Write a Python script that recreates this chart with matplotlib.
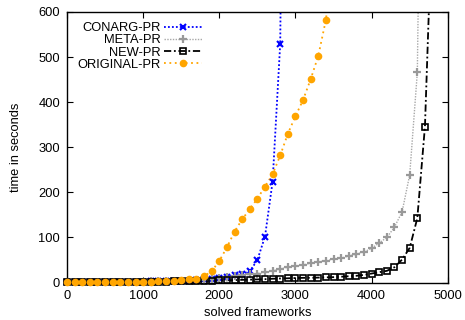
import matplotlib
matplotlib.use("Agg")
import matplotlib.pyplot as plt
from matplotlib.lines import Line2D
import numpy as np

plt.rcParams['font.family'] = ['Liberation Sans', 'DejaVu Sans']
plt.rcParams['font.size'] = 9.3

# x positions of the marked samples (solved frameworks) and times (s)
conarg_x = list(range(0, 2900, 100)) + [2805]
conarg_y = [1, 1, 1, 1, 1.5, 1.5, 1.5, 2, 2, 2, 2, 2.5, 2.5, 3, 3, 3,
            4, 5, 7, 9, 11, 13, 16, 19, 25, 50, 102, 224, 530, 620]

meta_x = list(range(0, 4700, 100)) + [4612]
meta_y = [1, 1, 1, 1, 1.5, 1.5, 1.5, 2, 2, 2, 2, 2.5, 2.5, 3, 3, 3,
          4, 5, 6, 8, 10, 12, 14, 16, 18, 20, 23, 26, 30, 34, 37, 39,
          43, 46, 48, 52, 54, 59, 63, 68, 76, 88, 100, 123, 157, 239,
          466, 620]

new_x = list(range(0, 4800, 100)) + [4755]
new_y = [0.5, 0.5, 1, 1, 1, 1, 1, 1.5, 1.5, 1.5, 2, 2, 2, 2, 2.5, 2.5,
         3, 3, 3.5, 4, 5, 5, 5.5, 6, 6.5, 7, 7.5, 8.5, 9, 9.5, 10, 10.5,
         10.5, 11, 11.5, 12, 13, 14, 15, 17, 20, 23, 26, 34, 51, 77,
         143, 346, 620]

orig_x = list(range(0, 3500, 100)) + [3425]
orig_y = [1, 1, 1, 1, 1.5, 1.5, 1.5, 2, 2, 2, 2, 2, 3, 3, 4, 5,
          7, 9, 14, 25, 48, 78, 113, 140, 163, 186, 213, 240, 282, 330,
          369, 405, 451, 503, 583, 620]

labels = ["CONARG-PR", "META-PR", "NEW-PR", "ORIGINAL-PR"]
xticks = [0, 1000, 2000, 3000, 4000, 5000]
yticks = [0, 100, 200, 300, 400, 500, 600]

fig = plt.figure(figsize=(4.65, 3.2), dpi=100)
ax = fig.add_axes([0.144, 0.117, 0.819, 0.8455])

series = [
    (conarg_x, conarg_y, dict(color='#0000ff', ls=(0, (1, 1.2)), lw=1.3),
     dict(marker='x', ms=5, mew=1.5, mfc='#0000ff', mec='#0000ff')),
    (meta_x, meta_y, dict(color='#a8a8a8', ls=(0, (1, 1)), lw=1.0),
     dict(marker='+', ms=6, mew=1.6, mfc='#999999', mec='#999999')),
    (new_x, new_y, dict(color='black', ls=(0, (4, 1.5, 1, 1.5)), lw=1.3),
     dict(marker='s', ms=5, mew=1.2, mfc='none', mec='black')),
    (orig_x, orig_y, dict(color='#ffa500', ls=(0, (1, 2)), lw=1.3),
     dict(marker='o', ms=5.5, mew=0, mfc='#ffa500', mec='#ffa500')),
]

handles = []
for (xs, ys, lstyle, mstyle), lab in zip(series, labels):
    xs = np.array(xs)
    ys = np.array(ys)
    ax.plot(xs, ys, **lstyle, zorder=2)
    ax.plot(xs[:-1], ys[:-1], ls='none', **mstyle, clip_on=False, zorder=3)
    handles.append(Line2D([], [], **lstyle, **mstyle))

ax.set_xlim(0, 5000)
ax.set_ylim(0, 600)
ax.set_xticks(xticks)
ax.set_yticks(yticks)
ax.tick_params(direction='in', length=4, width=0.8, top=True, right=True,
               labelsize=9.3, pad=5)
for s in ax.spines.values():
    s.set_linewidth(1.0)

ax.set_xlabel("solved frameworks", labelpad=4)
ax.set_ylabel("time in seconds", labelpad=12)

leg = ax.legend(handles, labels, loc='upper right', bbox_to_anchor=(0.378, 0.995),
                markerfirst=False, frameon=False, handlelength=2.9,
                handletextpad=0.3, labelspacing=0.0, borderpad=0.2,
                fontsize=9.3)

fig.savefig("out.png", dpi=100)
